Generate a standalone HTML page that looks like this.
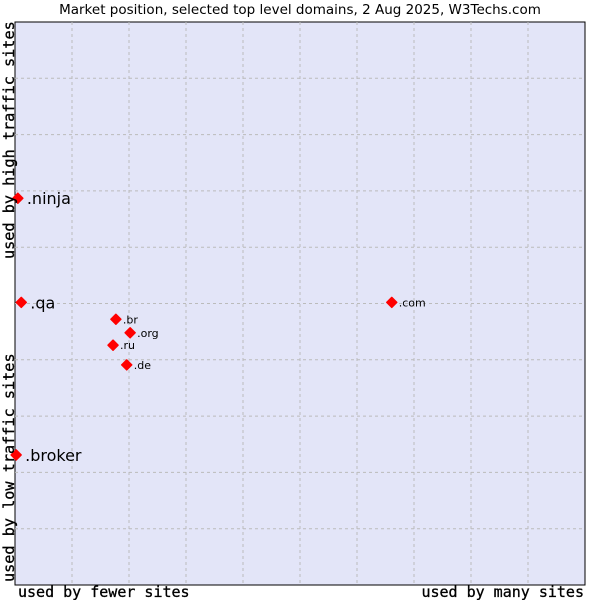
<!DOCTYPE html>
<html><head><meta charset="utf-8"><style>
body{margin:0;background:#fff;}
svg{display:block;}
</style></head><body>
<svg id="chart" width="600" height="600" xmlns="http://www.w3.org/2000/svg">
<text x="300" y="14" text-anchor="middle" font-family="DejaVu Sans, sans-serif" font-size="13.5" fill="#000">Market position, selected top level domains, 2 Aug 2025, W3Techs.com</text>
<rect x="15" y="22" width="570" height="563" fill="#e3e5f8" stroke="#000" stroke-width="1"/>
<g id="grid"></g>
<g id="points"></g>
<text x="18" y="597" font-family="DejaVu Sans Mono, monospace" font-size="15" fill="#000" stroke="#000" stroke-width="0.3">used by fewer sites</text>
<text x="584" y="597" text-anchor="end" font-family="DejaVu Sans Mono, monospace" font-size="15" fill="#000" stroke="#000" stroke-width="0.3">used by many sites</text>
<text transform="translate(14,582) rotate(-90)" font-family="DejaVu Sans Mono, monospace" font-size="15.2" fill="#000" stroke="#000" stroke-width="0.3">used by low traffic sites</text>
<text transform="translate(14,259) rotate(-90)" font-family="DejaVu Sans Mono, monospace" font-size="15.2" fill="#000" stroke="#000" stroke-width="0.3">used by high traffic sites</text>
</svg>
<script>
const labels = [".ninja", ".qa", ".com", ".br", ".org", ".ru", ".de", ".broker"];
const xValues = [0.5, 1.1, 66.1, 17.7, 20.2, 17.2, 19.6, 0.2];
const yValues = [68.7, 50.2, 50.2, 47.2, 44.8, 42.6, 39.1, 23.1];
const bigLabel = [true, true, false, false, false, false, false, true];
const gridTicks = [10, 20, 30, 40, 50, 60, 70, 80, 90];

const L=15, T=22, W=570, H=563;
const xs = v => L + v/100*W;
const ys = v => T + H - v/100*H;
const NS = "http://www.w3.org/2000/svg";
const grid = document.getElementById('grid');
gridTicks.forEach(t => {
  const v = document.createElementNS(NS,'line');
  
  
  v.setAttribute('x1',xs(t));v.setAttribute('x2',xs(t));v.setAttribute('y1',T);v.setAttribute('y2',T+H);
  v.setAttribute('stroke','#bbb');v.setAttribute('stroke-dasharray','3,3');
  grid.appendChild(v);
  const h = document.createElementNS(NS,'line');
  
  
  h.setAttribute('y1',ys(t));h.setAttribute('y2',ys(t));h.setAttribute('x1',L);h.setAttribute('x2',L+W);
  h.setAttribute('stroke','#bbb');h.setAttribute('stroke-dasharray','3,3');
  grid.appendChild(h);
});
const pts = document.getElementById('points');
labels.forEach((lab,i) => {
  const x = xs(xValues[i]), y = ys(yValues[i]);
  const m = document.createElementNS(NS,'path');
  
  
  m.setAttribute('d',`M${x},${y-5}L${x+5},${y}L${x},${y+5}L${x-5},${y}Z`);
  m.setAttribute('fill','#ff0000');
  m.setAttribute('stroke','#ff0000');
  m.setAttribute('stroke-linejoin','round');
  m.setAttribute('stroke-width','1.5');
  pts.appendChild(m);
  const t = document.createElementNS(NS,'text');
  
  
  t.setAttribute('font-family','DejaVu Sans, sans-serif');
  t.setAttribute('font-size', bigLabel[i] ? '16' : '11');
  t.setAttribute('x', x + (bigLabel[i] ? 9 : 7));
  t.setAttribute('y', y + (bigLabel[i] ? 6 : 4));
  t.textContent = lab;
  pts.appendChild(t);
});
</script>
</body></html>
